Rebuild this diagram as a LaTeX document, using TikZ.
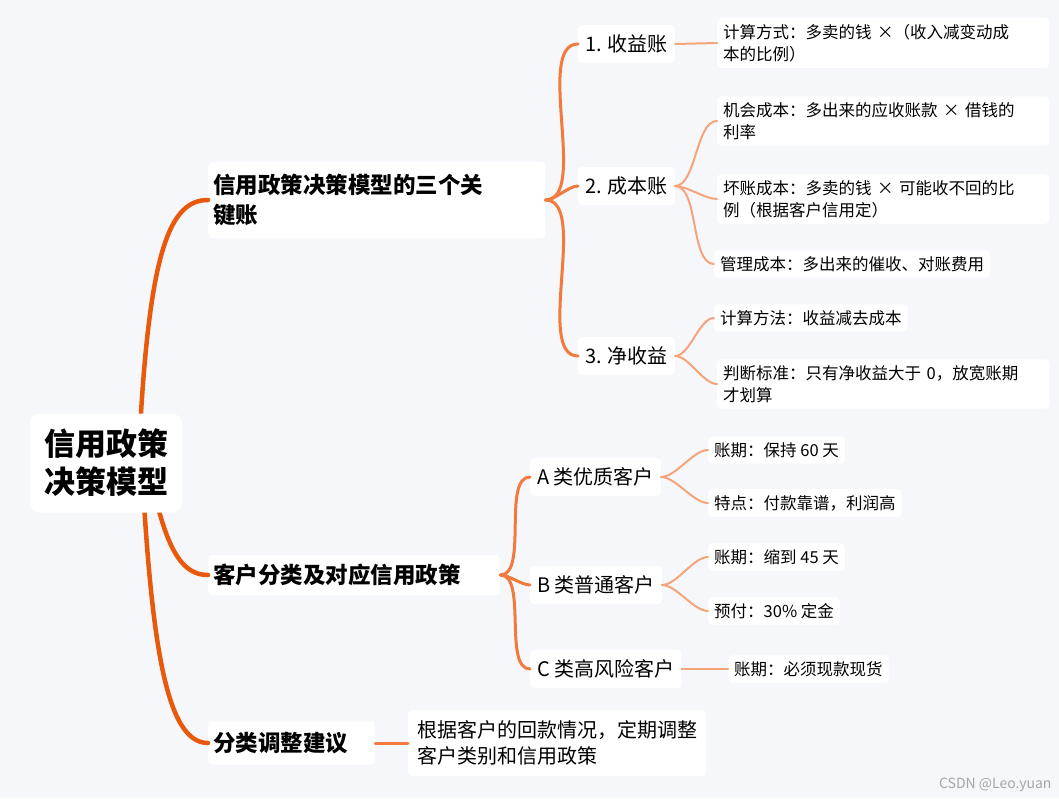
\documentclass[tikz,border=0pt]{standalone}
\usepackage{fontspec}
\setmainfont{Noto Sans CJK SC}
\begin{document}
\begin{tikzpicture}[x=1pt,y=-1pt,
 box/.style={fill=white,rounded corners=4pt,inner sep=0pt,align=left,anchor=west},
 e1/.style={draw=c1,line width=4.5pt,line cap=round},
 e2/.style={draw=c2,line width=3pt,line cap=round},
 e3/.style={draw=c3,line width=2pt,line cap=round}]
\definecolor{bg}{HTML}{F5F7FA}
\definecolor{c1}{HTML}{E8590C}
\definecolor{c2}{HTML}{F27A3C}
\definecolor{c3}{HTML}{F6A47A}
\fill[bg] (0,0) rectangle (1059,798);
\useasboundingbox (0,0) rectangle (1059,798);
% level 1
\node[box,minimum height=76pt,font=\fontsize{22.5}{30}\selectfont\bfseries,text width=327pt,inner xsep=5pt] (a) at (208,200) {信用政策决策模型的三个关\\键账};
\node[box,minimum height=40pt,font=\fontsize{22.5}{30}\selectfont\bfseries,text width=282pt,inner xsep=5pt] (b) at (208,575) {客户分类及对应信用政策};
\node[box,minimum height=43pt,font=\fontsize{22.5}{30}\selectfont\bfseries,text width=157pt,inner xsep=5pt] (c) at (208,743) {分类调整建议};
% level 2
\begin{scope}[every node/.style={box,minimum height=38pt,inner xsep=7pt,font=\fontsize{20}{26}\selectfont}]
\node (a1) at (578,44) {1. 收益账};
\node (a2) at (578,186) {2. 成本账};
\node (a3) at (578,356) {3. 净收益};
\node (b1) at (530,477) {A 类优质客户};
\node (b2) at (530,585) {B 类普通客户};
\node (b3) at (530,669) {C 类高风险客户};
\node[minimum height=66pt,inner xsep=9pt] (c1n) at (408,743) {根据客户的回款情况，定期调整\\客户类别和信用政策};
\end{scope}
% level 3
\begin{scope}[every node/.style={box,inner xsep=6pt,inner ysep=6pt,font=\fontsize{16.5}{22}\selectfont}]
\node[text width=320pt] (a11) at (717,43) {计算方式：多卖的钱 ×（收入减变动成\\本的比例）};
\node[text width=320pt] (a21) at (717,121) {机会成本：多出来的应收账款 × 借钱的\\利率};
\node[text width=320pt] (a22) at (717,199) {坏账成本：多卖的钱 × 可能收不回的比\\例（根据客户信用定）};
\node (a23) at (714,264) {管理成本：多出来的催收、对账费用};
\node (a31) at (714,318) {计算方法：收益减去成本};
\node[text width=320pt] (a32) at (717,384) {判断标准：只有净收益大于 0，放宽账期\\才划算};
\node (b11) at (708,450) {账期：保持 60 天};
\node (b12) at (708,503) {特点：付款靠谱，利润高};
\node (b21) at (708,557) {账期：缩到 45 天};
\node (b22) at (708,611) {预付：30\% 定金};
\node (b31) at (728,669) {账期：必须现款现货};
\end{scope}
% edges
\coordinate (rs) at (140,430);
\draw[e1] (rs) .. controls (150,250) and (170,200) .. (a.west);
\draw[e1] (rs) .. controls (160,520) and (170,575) .. (b.west);
\draw[e1] (rs) .. controls (150,640) and (165,743) .. (c.west);
\foreach \t in {a1,a2,a3} \draw[e2] (a.east) to[out=0,in=180,looseness=0.7] (\t.west);
\foreach \t in {b1,b2,b3} \draw[e2] (b.east) to[out=0,in=180,looseness=0.7] (\t.west);
\draw[e2] (c.east) -- (c1n.west);
\draw[e3] (a1.east) -- (a11.west);
\foreach \t in {a21,a22,a23} \draw[e3] (a2.east) to[out=0,in=180,looseness=0.7] (\t.west);
\foreach \t in {a31,a32} \draw[e3] (a3.east) to[out=0,in=180,looseness=0.7] (\t.west);
\foreach \t in {b11,b12} \draw[e3] (b1.east) to[out=0,in=180,looseness=0.7] (\t.west);
\foreach \t in {b21,b22} \draw[e3] (b2.east) to[out=0,in=180,looseness=0.7] (\t.west);
\draw[e3] (b3.east) -- (b31.west);
% root on top
\node[box,rounded corners=10pt,minimum width=152pt,minimum height=99pt,align=center,font=\fontsize{31}{38}\selectfont\bfseries,anchor=center] (r) at (106,463) {信用政策\\决策模型};
\node[anchor=south east,font=\fontsize{14}{16}\selectfont,text=gray!70] (wm) at (1055,795) {CSDN @Leo.yuan};
\end{tikzpicture}
\end{document}
